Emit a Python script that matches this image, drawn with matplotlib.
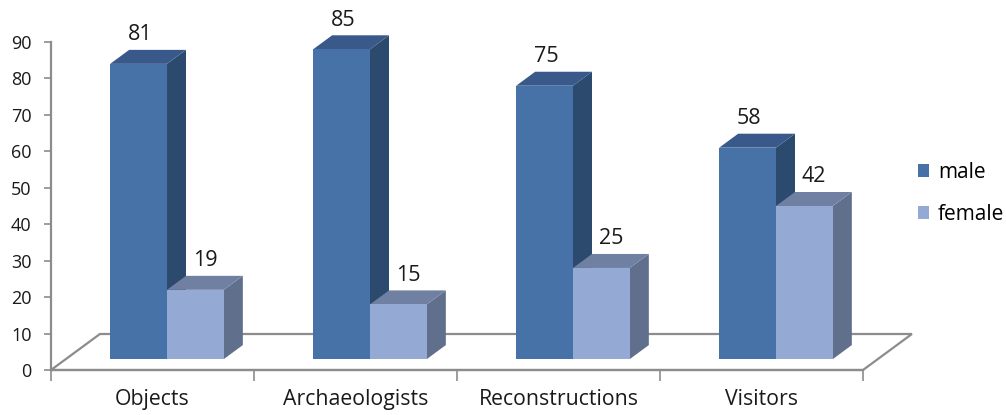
import matplotlib.pyplot as plt
from matplotlib.patches import Polygon, Patch

plt.rcParams['font.family'] = ['Open Sans', 'DejaVu Sans']

categories = ['Objects', 'Archaeologists', 'Reconstructions', 'Visitors']
male = [81, 85, 75, 58]
female = [19, 15, 25, 42]

# colours: front, side, top
male_col = ('#4672a8', '#2c4a6d', '#38598a')
female_col = ('#94aad4', '#5f6f8c', '#6f80a3')

W = 1006
H = 415
fig = plt.figure(figsize=(W / 100, H / 100), dpi=100)
ax = fig.add_axes([51 / W, 45 / H, 812 / W, 328 / H])
ax.set_xlim(-0.5, 3.5)
ax.set_ylim(0, 90)

# 3d depth of the floor (in data units), and where the bars sit in it
floor_dx, floor_dy = 0.241, 9.88
bar_dx0, bar_dy0 = 0.0714, 3.0
depth_dx, depth_dy = 0.0936, 3.84
bw = 0.28

grey = '#8c8c8c'
floor = Polygon([(-0.5, 0), (3.5, 0), (3.5 + floor_dx, floor_dy), (-0.5 + floor_dx, floor_dy)],
                closed=True, facecolor='white', edgecolor=grey, lw=1.6, clip_on=False, zorder=1)
ax.add_patch(floor)


def bar3d(x0, v, cols):
    x1 = x0 + bw
    y0 = bar_dy0
    y1 = bar_dy0 + v
    side = [(x1, y0), (x1 + depth_dx, y0 + depth_dy), (x1 + depth_dx, y1 + depth_dy), (x1, y1)]
    top = [(x0, y1), (x1, y1), (x1 + depth_dx, y1 + depth_dy), (x0 + depth_dx, y1 + depth_dy)]
    front = [(x0, y0), (x1, y0), (x1, y1), (x0, y1)]
    for pts, c in ((side, cols[1]), (top, cols[2]), (front, cols[0])):
        ax.add_patch(Polygon(pts, closed=True, facecolor=c, edgecolor='none', clip_on=False, zorder=3))


for i in range(len(categories)):
    c = i + bar_dx0
    bar3d(c - bw, male[i], male_col)
    bar3d(c, female[i], female_col)
    ax.annotate(str(male[i]), (c - bw / 2, bar_dy0 + male[i]), xytext=(1, 21),
                textcoords='offset points', ha='center', va='center', fontsize=15.5, color='#1a1a1a')
    ax.annotate(str(female[i]), (c + bw / 2, bar_dy0 + female[i]), xytext=(7, 21),
                textcoords='offset points', ha='center', va='center', fontsize=15.5, color='#1a1a1a')

for s in ('top', 'right'):
    ax.spines[s].set_visible(False)
ax.spines['left'].set_color(grey)
ax.spines['left'].set_linewidth(1.6)
ax.spines['bottom'].set_color(grey)
ax.spines['bottom'].set_linewidth(1.6)
ax.spines['left'].set_zorder(2)
ax.spines['bottom'].set_zorder(2)
ax.patch.set_visible(False)

ax.set_yticks(range(0, 91, 10))
ax.tick_params(axis='y', length=5, color=grey, width=1.2, labelsize=13, labelcolor='#1a1a1a', pad=9)
ax.set_xticks(range(len(categories)))
ax.set_xticklabels(categories)
ax.set_xticks([-0.5, 0.5, 1.5, 2.5, 3.5], minor=True)
ax.tick_params(axis='x', which='major', length=0, labelsize=15.3, labelcolor='#1a1a1a', pad=14)
ax.tick_params(axis='x', which='minor', length=8, color=grey, width=1.2)

handles = [Patch(facecolor=male_col[0], label='male'), Patch(facecolor=female_col[0], label='female')]
fig.legend(handles=handles, loc='upper left', bbox_to_anchor=(918 / W, 1 - 162 / H), frameon=False,
           fontsize=15, handlelength=0.55, handleheight=0.55, handletextpad=0.4, labelspacing=1.0,
           borderpad=0, borderaxespad=0)

fig.savefig('out.png', dpi=100)
